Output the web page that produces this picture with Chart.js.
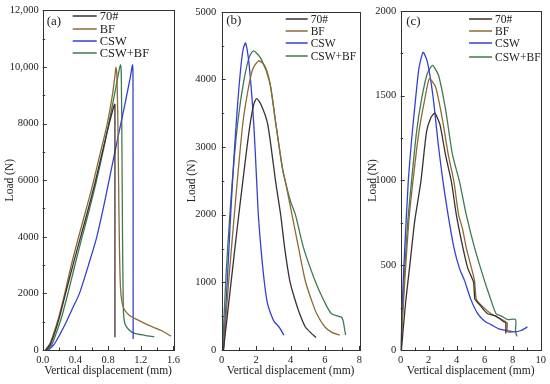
<!DOCTYPE html>
<html>
<head>
<meta charset="utf-8">
<script src="https://cdn.jsdelivr.net/npm/chart.js@4.4.1/dist/chart.umd.min.js"></script>
<style>
  html, body { margin: 0; padding: 0; background: #fff; }
  #wrap { position: relative; width: 550px; height: 384px; overflow: hidden; }
  canvas { position: absolute; top: 0; }
</style>
</head>
<body>
<div id="wrap">
  <canvas id="cA" width="184" height="384" style="left:0px"></canvas>
  <canvas id="cB" width="182" height="384" style="left:184px"></canvas>
  <canvas id="cC" width="184" height="384" style="left:366px"></canvas>
</div>
<script>
// series names and colours
const seriesNames = ['70#', 'BF', 'CSW', 'CSW+BF'];
const seriesColors = ['#3b2f33', '#8c6a34', '#3540d2', '#3f7a52'];

// panel (a): [displacement mm, load N]
const a_70 = [[0.04,0],[0.09,180],[0.14,550],[0.2,1100],[0.28,2000],[0.37,3000],[0.46,3950],[0.55,4900],[0.64,5900],[0.73,7000],[0.81,7950],[0.87,8600],[0.883,8680],[0.884,8500],[0.884,450]];
const a_BF = [[0.03,0],[0.08,180],[0.13,550],[0.19,1100],[0.27,2000],[0.35,3000],[0.44,4000],[0.52,4850],[0.6,5700],[0.7,6900],[0.79,8000],[0.85,8950],[0.885,9700],[0.895,9986],[0.908,9700],[0.92,8000],[0.93,5600],[0.94,3500],[0.952,2200],[0.97,1700],[1.0,1420],[1.06,1230],[1.15,1080],[1.3,870],[1.45,690],[1.57,490]];
const a_CSW = [[0.07,0],[0.14,200],[0.21,550],[0.29,1000],[0.37,1500],[0.45,2000],[0.56,3000],[0.66,3970],[0.76,5256],[0.88,6950],[1.0,8600],[1.07,9600],[1.099,10067],[1.105,9700],[1.107,390]];
const a_CSWBF = [[0.05,0],[0.11,180],[0.16,550],[0.22,1050],[0.3,1900],[0.39,2950],[0.48,3970],[0.57,4950],[0.66,6000],[0.76,7300],[0.85,8600],[0.91,9500],[0.94,9950],[0.953,10067],[0.962,9700],[0.97,7000],[0.977,4000],[0.984,2000],[0.99,1250],[1.01,900],[1.06,700],[1.126,590],[1.25,520],[1.366,466]];

// panel (b)
const b_70 = [[0.1,0],[0.5,900],[0.9,1800],[1.23,2500],[1.6,3250],[1.85,3620],[2.03,3717],[2.3,3620],[2.66,3353],[3.0,2750],[3.14,2478],[3.43,1993],[3.66,1506],[3.96,1020],[4.25,750],[4.53,535],[4.86,340],[5.2,250],[5.48,185]];
const b_BF = [[0.1,0],[0.4,1000],[0.7,1900],[0.95,2624],[1.23,3353],[1.5,3800],[1.8,4150],[2.15,4276],[2.5,4200],[2.8,3950],[3.14,3353],[3.52,2700],[3.71,2478],[4.09,1993],[4.47,1506],[4.86,1020],[5.2,750],[5.52,535],[6.0,340],[6.4,260],[6.86,219]];
const b_CSW = [[0.1,0],[0.3,900],[0.5,1900],[0.7,2800],[0.9,3550],[1.1,4150],[1.25,4450],[1.39,4538],[1.6,4200],[1.86,3353],[2.05,2400],[2.13,1993],[2.28,1506],[2.47,1020],[2.65,700],[2.85,535],[3.05,420],[3.33,340],[3.62,219]];
const b_CSWBF = [[0.05,0],[0.25,1100],[0.5,2100],[0.75,2900],[1.0,3500],[1.3,4000],[1.6,4330],[1.85,4421],[2.3,4300],[2.8,3950],[3.14,3353],[3.52,2700],[3.71,2478],[4.0,2200],[4.29,1993],[4.76,1506],[5.43,1020],[5.9,750],[6.38,535],[6.95,486],[7.05,437],[7.2,219]];

// panel (c)
const c_70 = [[0.05,0],[0.35,280],[0.66,506],[1.0,760],[1.44,993],[1.84,1285],[2.15,1370],[2.43,1397],[2.8,1330],[3.2,1150],[3.62,993],[3.97,798],[4.44,604],[4.8,480],[5.2,400],[5.3,300],[5.6,270],[5.9,240],[6.21,214],[6.8,200],[7.3,170],[7.5,160],[7.5,97]];
const c_BF = [[0,0],[0.3,420],[0.6,780],[0.95,1050],[1.3,1285],[1.72,1479],[2.05,1600],[2.5,1550],[3.0,1350],[3.4,1150],[3.8,993],[4.13,798],[4.4,720],[4.68,604],[5.0,500],[5.27,409],[5.4,300],[5.8,260],[6.45,214],[7.0,190],[7.6,160],[7.6,110],[8.0,105]];
const c_CSW = [[0,0],[0.2,450],[0.54,993],[0.83,1285],[1.06,1479],[1.3,1660],[1.6,1756],[1.9,1700],[2.3,1500],[2.7,1200],[3.02,993],[3.38,798],[3.8,604],[4.2,480],[4.56,409],[5.0,300],[5.5,214],[6.0,170],[6.45,150],[7.0,125],[7.4,117],[8.1,107],[8.6,115],[9.05,136]];
const c_CSWBF = [[0,0],[0.25,420],[0.5,750],[0.77,993],[1.13,1285],[1.49,1479],[1.9,1630],[2.27,1678],[2.7,1620],[3.2,1420],[3.7,1150],[4.2,993],[4.68,798],[5.27,604],[5.98,409],[6.3,330],[6.81,214],[7.2,200],[7.6,180],[8.2,180],[8.2,110],[8.3,80]];

Chart.defaults.font.family = '"Liberation Serif", "Times New Roman", serif';
Chart.defaults.color = '#222';

// border, inward ticks, legend and panel letter
const panelPlugin = {
  id: 'panel',
  afterDraw(chart, args, o) {
    const { ctx, chartArea: ca, scales } = chart;
    const x = scales.x, y = scales.y;
    ctx.save();
    ctx.strokeStyle = '#333';
    ctx.lineWidth = 1;
    ctx.strokeRect(Math.round(ca.left) + 0.5, Math.round(ca.top) + 0.5,
      Math.round(ca.right - ca.left), Math.round(ca.bottom - ca.top));
    ctx.beginPath();
    for (let v = x.min; v <= x.max + 1e-9; v += o.xMinor) {
      const major = Math.abs(v / o.xMajor - Math.round(v / o.xMajor)) < 1e-6;
      const px = Math.round(x.getPixelForValue(v)) + 0.5;
      ctx.moveTo(px, ca.bottom);
      ctx.lineTo(px, ca.bottom - (major ? 4 : 2.5));
    }
    for (let v = y.min; v <= y.max + 1e-9; v += o.yMinor) {
      const major = Math.abs(v / o.yMajor - Math.round(v / o.yMajor)) < 1e-6;
      const py = Math.round(y.getPixelForValue(v)) + 0.5;
      ctx.moveTo(ca.left, py);
      ctx.lineTo(ca.left + (major ? 4 : 2.5), py);
    }
    ctx.stroke();

    // panel letter
    ctx.fillStyle = '#222';
    ctx.font = '13px "Liberation Serif", serif';
    ctx.textBaseline = 'middle';
    ctx.textAlign = 'left';
    ctx.fillText(o.letter, ca.left + o.letterDx, o.letterY);

    // legend
    ctx.font = o.legendFont + 'px "Liberation Serif", serif';
    const lx = o.legendFromRight ? ca.right - o.legendX : ca.left + o.legendX;
    chart.data.datasets.forEach((ds, i) => {
      const ly = o.legendY[i];
      ctx.strokeStyle = ds.borderColor;
      ctx.lineWidth = 1.5;
      ctx.beginPath();
      ctx.moveTo(lx, ly);
      ctx.lineTo(lx + o.legendLen, ly);
      ctx.stroke();
      ctx.fillText(ds.label, lx + o.legendLen + 3, ly + 0.5);
    });
    ctx.restore();
  }
};

function makePanel(id, series, p) {
  return new Chart(document.getElementById(id), {
    type: 'line',
    data: {
      datasets: series.map((pts, i) => ({
        label: seriesNames[i],
        data: pts.map(([x, y]) => ({ x: x, y: y })),
        borderColor: seriesColors[i],
        borderWidth: 1.3,
        pointRadius: 0,
        tension: p.tension,
        fill: false
      }))
    },
    options: {
      responsive: false,
      animation: false,
      layout: { padding: { top: p.top, right: p.right, left: 0, bottom: 0 } },
      plugins: { legend: { display: false }, tooltip: { enabled: false }, panel: p },
      scales: {
        x: {
          type: 'linear',
          min: p.xMin, max: p.xMax,
          grid: { display: false, drawTicks: false },
          border: { display: false },
          ticks: { stepSize: p.xMajor, padding: 4, font: { size: 10.5 }, color: '#222',
            callback: v => p.xFmt ? v.toFixed(1) : String(v) },
          title: { display: true, text: 'Vertical displacement (mm)', font: { size: 11.5 }, color: '#222',
            padding: { top: 0, bottom: 6.2 } },
          afterFit: s => { s.height = 34; }
        },
        y: {
          type: 'linear',
          min: p.yMin, max: p.yMax,
          grid: { display: false, drawTicks: false },
          border: { display: false },
          ticks: { stepSize: p.yMajor, padding: p.yPad, font: { size: 10.5 }, color: '#222',
            callback: v => v >= 10000 ? v.toLocaleString('en-US') : String(v) },
          title: { display: true, text: 'Load (N)', font: { size: 11.5 }, color: '#222',
            padding: { top: p.yTitlePad, bottom: 0 } },
          afterFit: s => { s.width = p.yWidth; }
        }
      }
    },
    plugins: [panelPlugin]
  });
}

makePanel('cA', [a_70, a_BF, a_CSW, a_CSWBF], {
  xMin: 0, xMax: 1.6, xMajor: 0.4, xMinor: 0.2, xFmt: true,
  yMin: 0, yMax: 12000, yMajor: 2000, yMinor: 1000,
  top: 7.5, right: 3, yWidth: 42.7, yPad: 4, yTitlePad: 3, tension: 0.25,
  letter: '(a)', letterDx: 4, letterY: 22,
  legendX: 30, legendFromRight: false, legendLen: 24, legendFont: 12.5, legendY: [16, 29, 41, 53]
});
makePanel('cB', [b_70, b_BF, b_CSW, b_CSWBF], {
  xMin: 0, xMax: 8, xMajor: 2, xMinor: 1,
  yMin: 0, yMax: 5000, yMajor: 1000, yMinor: 500,
  top: 7, right: 4.3, yWidth: 37.7, yPad: 5.5, yTitlePad: 1.2, tension: 0.25,
  letter: '(b)', letterDx: 4.5, letterY: 21,
  legendX: 73.7, legendFromRight: true, legendLen: 22, legendFont: 11.5, legendY: [19, 31, 43, 56]
});
makePanel('cC', [c_70, c_BF, c_CSW, c_CSWBF], {
  xMin: 0, xMax: 10, xMajor: 2, xMinor: 1,
  yMin: 0, yMax: 2000, yMajor: 500, yMinor: 250,
  top: 7.5, right: 8.3, yWidth: 34.7, yPad: 4.5, yTitlePad: 0, tension: 0.2,
  letter: '(c)', letterDx: 5.5, letterY: 22,
  legendX: 71.7, legendFromRight: true, legendLen: 23, legendFont: 11.5, legendY: [19, 31, 43, 57]
});
</script>
</body>
</html>
